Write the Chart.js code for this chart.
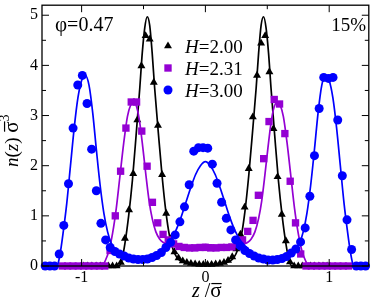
<!DOCTYPE html>
<html>
<head>
<meta charset="utf-8">
<script src="https://cdn.jsdelivr.net/npm/chart.js@4.4.0/dist/chart.umd.min.js"></script>
<style>
  body { margin: 0; background: #fff; }
  #wrap { width: 374px; height: 302px; }
</style>
</head>
<body>
<div id="wrap"><canvas id="grafico" width="374" height="302"></canvas></div>
<script>
// eixos
const xTicks = [-1, 0, 1];
const xMinor = [-0.5, 0.5];
const yTicks = [0, 1, 2, 3, 4, 5];
const yMinor = [0.5, 1.5, 2.5, 3.5, 4.5];
const legendLabels = ['H=2.00', 'H=2.31', 'H=3.00'];

// H=2.00 (simulacao, triangulos)
const blackX = [-0.983,-0.95,-0.917,-0.883,-0.85,-0.817,-0.783,-0.75,-0.717,-0.683,-0.65,-0.617,-0.583,-0.55,-0.517,-0.483,-0.45,-0.417,-0.383,-0.35,-0.317,-0.283,-0.25,-0.217,-0.183,-0.15,-0.117,-0.083,-0.05,-0.017,
  0.017,0.05,0.083,0.117,0.15,0.183,0.217,0.25,0.283,0.317,0.35,0.383,0.417,0.45,0.483,0.517,0.55,0.583,0.617,0.65,0.683,0.717,0.75,0.783,0.817,0.85,0.883,0.917,0.95,0.983];
const blackY = [0,0,0,0,0,0,0,0,0,0.07,0.55,1.12,1.84,2.91,3.99,4.59,4.52,3.66,2.80,1.82,1.05,0.54,0.28,0.16,0.10,0.07,0.05,0.04,0.03,0.03,
  0.03,0.03,0.04,0.05,0.07,0.11,0.18,0.34,0.63,1.17,1.94,2.97,3.80,4.44,4.59,3.87,2.74,1.78,1.03,0.50,0.08,0,0,0,0,0,0,0,0,0];
// H=2.00 (teoria, linha)
const blackLineX = [-0.983,-0.70,-0.675,-0.65,-0.62,-0.59,-0.56,-0.53,-0.51,-0.49,-0.47,-0.45,-0.43,-0.41,-0.38,-0.35,-0.32,-0.29,-0.26,-0.23,-0.2,-0.15,-0.1,-0.05,0,
  0.05,0.1,0.15,0.2,0.23,0.26,0.29,0.32,0.35,0.38,0.41,0.43,0.45,0.47,0.49,0.51,0.53,0.56,0.59,0.62,0.65,0.675,0.70,0.983];
const blackLineY = [0,0,0.12,0.45,1.0,1.7,2.6,3.55,4.25,4.75,4.97,4.8,4.25,3.55,2.65,1.8,1.1,0.6,0.32,0.17,0.1,0.06,0.04,0.03,0.03,
  0.03,0.04,0.06,0.1,0.17,0.32,0.6,1.1,1.8,2.65,3.55,4.25,4.8,4.97,4.75,4.25,3.55,2.6,1.7,1.0,0.45,0.12,0,0];

// H=2.31 (simulacao, quadrados)
const purpleX = [-1.156,-1.113,-1.070,-1.027,-0.984,-0.942,-0.899,-0.856,-0.813,-0.770,-0.728,-0.685,-0.642,-0.599,-0.556,-0.514,-0.471,-0.428,-0.385,-0.342,-0.300,-0.257,-0.214,-0.171,-0.128,-0.086,-0.043,0,
  0.043,0.086,0.128,0.171,0.214,0.257,0.300,0.342,0.385,0.428,0.471,0.514,0.556,0.599,0.642,0.685,0.728,0.770,0.813,0.856,0.899,0.942,0.984,1.027,1.070,1.113,1.156];
const purpleY = [0,0,0,0,0,0,0,0,0,0.31,1.0,1.89,2.75,3.27,3.27,2.69,1.99,1.27,0.86,0.63,0.52,0.44,0.39,0.37,0.36,0.36,0.37,0.37,
  0.36,0.36,0.37,0.37,0.38,0.44,0.52,0.69,0.91,1.41,2.14,2.88,3.32,3.23,2.64,1.69,0.86,0.24,0,0,0,0,0,0,0,0,0];
// H=2.31 (teoria, linha)
const purpleLineX = [-1.156,-0.835,-0.81,-0.78,-0.75,-0.72,-0.69,-0.66,-0.63,-0.605,-0.58,-0.555,-0.53,-0.505,-0.48,-0.455,-0.43,-0.40,-0.37,-0.34,-0.30,-0.25,-0.2,-0.15,-0.1,-0.05,0,
  0.05,0.1,0.15,0.2,0.25,0.30,0.34,0.37,0.40,0.43,0.455,0.48,0.505,0.53,0.555,0.58,0.605,0.63,0.66,0.69,0.72,0.75,0.78,0.81,0.835,1.156];
const purpleLineY = [0,0,0.1,0.3,0.65,1.15,1.8,2.45,2.98,3.2,3.26,3.17,2.85,2.35,1.8,1.3,0.95,0.68,0.54,0.47,0.43,0.41,0.40,0.40,0.41,0.42,0.43,
  0.42,0.41,0.40,0.40,0.41,0.43,0.47,0.54,0.68,0.95,1.3,1.8,2.35,2.85,3.17,3.26,3.2,2.98,2.45,1.8,1.15,0.65,0.3,0.1,0,0];

// H=3.00 (simulacao, circulos)
const blueX = [-1.294,-1.256,-1.219,-1.181,-1.144,-1.106,-1.069,-1.031,-0.994,-0.956,-0.919,-0.881,-0.844,-0.806,-0.769,-0.731,-0.694,-0.656,-0.619,-0.581,-0.544,-0.506,-0.469,-0.431,-0.394,-0.356,-0.319,-0.281,-0.244,-0.206,-0.169,-0.131,-0.094,-0.056,-0.019,
  0.019,0.056,0.094,0.131,0.169,0.206,0.244,0.281,0.319,0.356,0.394,0.431,0.469,0.506,0.544,0.581,0.619,0.656,0.694,0.731,0.769,0.806,0.844,0.881,0.919,0.956,0.994,1.031,1.069,1.106,1.144,1.181,1.219,1.256,1.294];
const blueY = [0,0,0,0.24,0.81,1.64,2.75,3.61,3.80,3.24,2.33,1.50,0.85,0.52,0.37,0.29,0.24,0.20,0.16,0.14,0.13,0.13,0.14,0.17,0.21,0.27,0.37,0.47,0.62,0.88,1.18,1.62,2.29,2.36,2.36,
  2.35,2.03,1.65,1.27,0.95,0.72,0.52,0.40,0.31,0.25,0.20,0.16,0.14,0.12,0.12,0.13,0.15,0.19,0.26,0.34,0.48,0.76,1.39,2.20,3.14,3.76,3.74,3.76,2.91,1.80,0.92,0.33,0,0,0];
// H=3.00 (teoria, linha)
const blueLineX = [-1.294,-1.21,-1.19,-1.17,-1.15,-1.12,-1.09,-1.06,-1.03,-1.0,-0.97,-0.94,-0.91,-0.88,-0.85,-0.82,-0.79,-0.76,-0.72,-0.68,-0.64,-0.6,-0.56,-0.52,-0.48,-0.44,-0.4,-0.36,-0.32,-0.28,-0.24,-0.2,-0.16,-0.12,-0.08,-0.04,0,
  0.04,0.08,0.12,0.16,0.2,0.24,0.28,0.32,0.36,0.4,0.44,0.48,0.52,0.56,0.6,0.64,0.68,0.72,0.76,0.79,0.82,0.85,0.88,0.91,0.94,0.97,1.0,1.03,1.06,1.09,1.12,1.15,1.17,1.19,1.21,1.294];
const blueLineY = [0,0,0.05,0.3,0.65,1.25,2.0,2.75,3.35,3.7,3.8,3.6,3.05,2.3,1.6,1.05,0.68,0.45,0.3,0.22,0.17,0.14,0.13,0.14,0.16,0.2,0.25,0.31,0.40,0.52,0.7,0.95,1.25,1.55,1.82,2.0,2.08,
  2.0,1.82,1.55,1.25,0.95,0.7,0.52,0.40,0.31,0.25,0.2,0.16,0.14,0.13,0.14,0.17,0.22,0.3,0.45,0.68,1.05,1.6,2.3,3.05,3.6,3.8,3.7,3.35,2.75,2.0,1.25,0.65,0.3,0.05,0,0];

const BLACK = '#000000';
const PURPLE = '#9400d3';
const BLUE = '#0000ff';
const FONT = '"Liberation Serif", "Times New Roman", serif';

function pares(xs, ys) {
  return xs.map((x, i) => ({ x: x, y: ys[i] }));
}

function pontos(label, xs, ys, cor, estilo, raio, ordem) {
  return {
    label: label, data: pares(xs, ys), showLine: false,
    pointStyle: estilo, pointRadius: raio, pointHoverRadius: raio,
    backgroundColor: cor, borderColor: cor, borderWidth: 0,
    clip: false, order: ordem
  };
}

function linha(xs, ys, cor, ordem) {
  return {
    data: pares(xs, ys), showLine: true, pointRadius: 0,
    borderColor: cor, borderWidth: 1.7, cubicInterpolationMode: 'monotone',
    fill: false, clip: false, order: ordem
  };
}

// escreve trechos de texto com estilos diferentes lado a lado
function trechos(ctx, lista, x, y) {
  lista.forEach(t => {
    ctx.font = (t.it ? 'italic ' : '') + t.size + 'px ' + FONT;
    const w = ctx.measureText(t.txt).width;
    ctx.fillText(t.txt, x, y - (t.up || 0));
    if (t.bar) {
      ctx.beginPath();
      ctx.lineWidth = 1.2;
      ctx.moveTo(x + 1, y - t.size * 0.64);
      ctx.lineTo(x + w, y - t.size * 0.64);
      ctx.stroke();
    }
    x += w;
  });
}

const moldura = {
  id: 'moldura',
  afterDatasetsDraw(chart) {
    const { ctx, chartArea: a, scales: { x, y } } = chart;
    ctx.save();
    ctx.strokeStyle = '#000';
    ctx.lineWidth = 1;
    const tickX = (v, len) => {
      const px = x.getPixelForValue(v);
      ctx.moveTo(px, a.bottom); ctx.lineTo(px, a.bottom - len);
      ctx.moveTo(px, a.top); ctx.lineTo(px, a.top + len);
    };
    const tickY = (v, len) => {
      const py = y.getPixelForValue(v);
      ctx.moveTo(a.left, py); ctx.lineTo(a.left + len, py);
      ctx.moveTo(a.right, py); ctx.lineTo(a.right - len, py);
    };
    ctx.beginPath();
    xTicks.forEach(v => tickX(v, 7));
    xMinor.forEach(v => tickX(v, 4));
    yTicks.forEach(v => tickY(v, 7));
    yMinor.forEach(v => tickY(v, 4));
    ctx.stroke();
    ctx.lineWidth = 1.3;
    ctx.strokeRect(a.left, a.top, a.right - a.left, a.bottom - a.top);

    // textos
    ctx.fillStyle = '#000';
    ctx.textBaseline = 'alphabetic';
    ctx.textAlign = 'left';
    trechos(ctx, [{ txt: 'φ', size: 21 }, { txt: '=0.47', size: 20 }], 55, 31);
    ctx.textAlign = 'right';
    ctx.font = '19px ' + FONT;
    ctx.fillText('15%', 366, 31);
    ctx.textAlign = 'left';

    // legenda
    const estilos = [
      { cor: BLACK, estilo: 'triangle', raio: 4.6 },
      { cor: PURPLE, estilo: 'rect', raio: 5.2 },
      { cor: BLUE, estilo: 'circle', raio: 4.5 }
    ];
    legendLabels.forEach((lab, i) => {
      const yb = 53 + i * 22;
      const e = estilos[i];
      ctx.fillStyle = e.cor;
      ctx.strokeStyle = e.cor;
      Chart.helpers.drawPoint(ctx, { pointStyle: e.estilo, radius: e.raio, rotation: 0, borderWidth: 0 }, 168, yb - 7);
      ctx.fillStyle = '#000';
      ctx.strokeStyle = '#000';
      trechos(ctx, [{ txt: lab.slice(0, 1), size: 19, it: true }, { txt: lab.slice(1), size: 19 }], 185, yb);
    });

    // titulo do eixo x
    trechos(ctx, [
      { txt: 'z', size: 20, it: true },
      { txt: ' /', size: 20 },
      { txt: 'σ', size: 21, bar: true }
    ], 192, 297);

    // titulo do eixo y
    ctx.translate(18, 167);
    ctx.rotate(-Math.PI / 2);
    trechos(ctx, [
      { txt: 'n', size: 19, it: true },
      { txt: '(', size: 19 },
      { txt: 'z', size: 19, it: true },
      { txt: ') ', size: 19 },
      { txt: 'σ', size: 21, bar: true },
      { txt: '3', size: 14, up: 9 }
    ], 0, 0);
    ctx.restore();
  }
};

new Chart(document.getElementById('grafico'), {
  type: 'scatter',
  data: {
    datasets: [
      pontos(legendLabels[2], blueX, blueY, BLUE, 'circle', 4.5, 0),
      linha(blueLineX, blueLineY, BLUE, 1),
      pontos(legendLabels[1], purpleX, purpleY, PURPLE, 'rect', 5.2, 2),
      linha(purpleLineX, purpleLineY, PURPLE, 3),
      pontos(legendLabels[0], blackX, blackY, BLACK, 'triangle', 4.6, 4),
      linha(blackLineX, blackLineY, BLACK, 5)
    ]
  },
  options: {
    responsive: false,
    animation: false,
    events: [],
    layout: { padding: { left: 0, right: 2, top: 1, bottom: 0 } },
    plugins: { legend: { display: false }, tooltip: { enabled: false } },
    scales: {
      x: {
        type: 'linear', min: -1.32, max: 1.32,
        grid: { display: false, drawTicks: false },
        border: { display: false },
        afterBuildTicks: s => { s.ticks = xTicks.map(v => ({ value: v })); },
        ticks: { padding: 2, color: '#000', font: { family: FONT, size: 16 }, maxRotation: 0 },
        afterFit: s => { s.height = 36; s.paddingLeft = 0; s.paddingRight = 0; }
      },
      y: {
        type: 'linear', min: 0, max: 5.2,
        grid: { display: false, drawTicks: false },
        border: { display: false },
        afterBuildTicks: s => { s.ticks = yTicks.map(v => ({ value: v })); },
        ticks: { padding: 4, color: '#000', font: { family: FONT, size: 16 } },
        afterFit: s => { s.width = 42; s.paddingTop = 0; s.paddingBottom = 0; }
      }
    }
  },
  plugins: [moldura]
});
</script>
</body>
</html>
